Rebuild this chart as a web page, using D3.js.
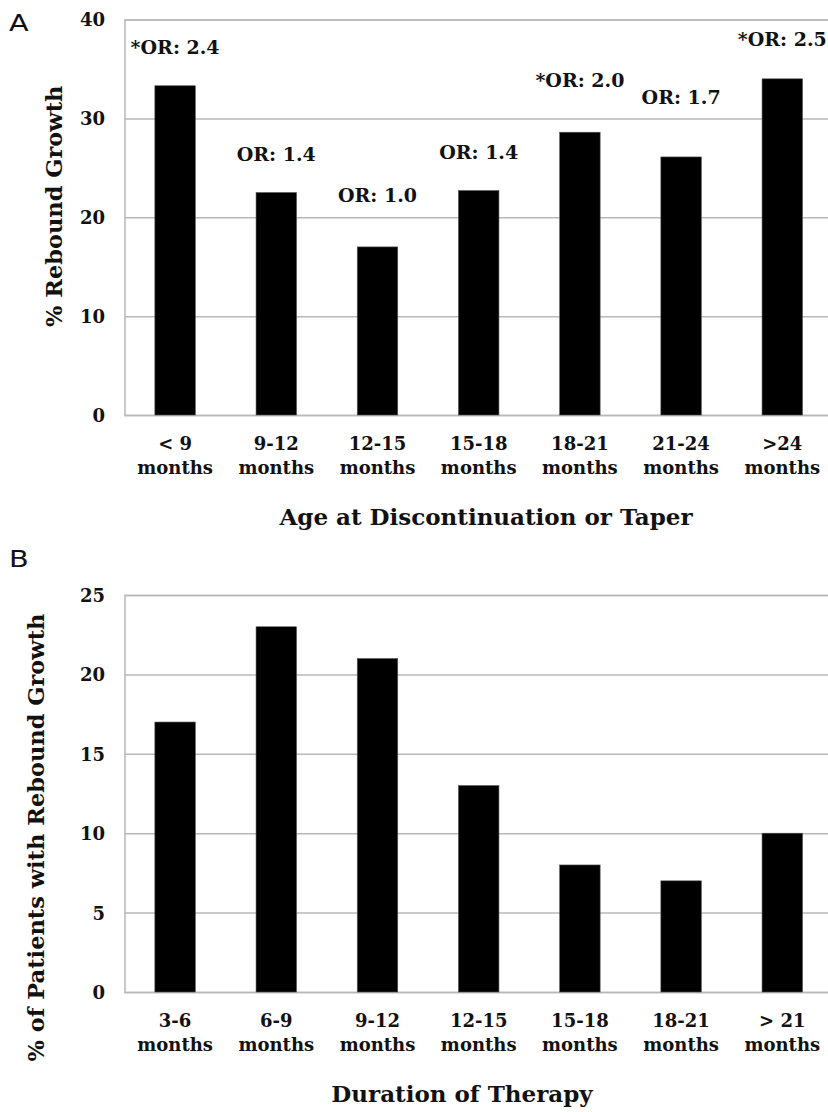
<!DOCTYPE html>
<html>
<head>
<meta charset="utf-8">
<script src="https://cdn.jsdelivr.net/npm/d3@7"></script>
<style>
  body { margin: 0; background: #fff; }
  svg text { font-family: "DejaVu Serif", serif; font-weight: bold; fill: #111; }
  .panel-letter { font-family: "DejaVu Sans", sans-serif !important; font-weight: normal !important; }
</style>
</head>
<body>
<script>
// panel A - age at discontinuation
var ageCats = ['< 9', '9-12', '12-15', '15-18', '18-21', '21-24', '>24'];
var ageRebound = [33.3, 22.5, 17.0, 22.7, 28.6, 26.1, 34.0];
var ageOR = ['*OR: 2.4', 'OR: 1.4', 'OR: 1.0', 'OR: 1.4', '*OR: 2.0', 'OR: 1.7', '*OR: 2.5'];
var ageORAt = [36.5, 25.7, 21.5, 25.9, 33.2, 31.5, 37.3]; // label baseline, in % units
var ageTicks = [0, 10, 20, 30, 40];

// panel B - duration of therapy
var durCats = ['3-6', '6-9', '9-12', '12-15', '15-18', '18-21', '> 21'];
var durRebound = [17, 23, 21, 13, 8, 7, 10];
var durTicks = [0, 5, 10, 15, 20, 25];

var width = 828;
var height = 1112;

var svg = d3.select('body').append('svg')
  .attr('width', width)
  .attr('height', height);

function drawPanel(opts) {
  var x = d3.scaleBand()
    .domain(opts.cats)
    .range([124.5, 832.9])
    .paddingInner(0.6)
    .paddingOuter(0.3);

  var y = d3.scaleLinear()
    .domain([0, d3.max(opts.ticks)])
    .range([opts.bottom, opts.top]);

  var g = svg.append('g');

  // gridlines + tick labels
  var yAxis = g.append('g')
    .attr('transform', 'translate(124.5,0)')
    .call(d3.axisLeft(y).tickValues(opts.ticks).tickSize(-(832.9 - 124.5)).tickPadding(19.5));

  yAxis.select('.domain').attr('stroke', '#b8b8b8').attr('stroke-width', 1.5);
  yAxis.selectAll('.tick line').attr('stroke', '#b8b8b8').attr('stroke-width', 1.5);
  yAxis.selectAll('.tick text')
    .attr('font-size', 18)
    .attr('font-family', null)
    .attr('dy', '0.36em');
  yAxis.attr('font-family', null);

  // bars
  g.selectAll('.bar')
    .data(opts.values)
    .enter()
    .append('rect')
    .attr('class', 'bar')
    .attr('x', function (d, i) { return x(opts.cats[i]); })
    .attr('width', x.bandwidth())
    .attr('y', function (d) { return y(d); })
    .attr('height', function (d) { return y(0) - y(d); })
    .attr('fill', '#000')
    .attr('stroke', '#555')
    .attr('stroke-width', 0.6);

  // category labels, two lines
  var xl = g.selectAll('.xlab')
    .data(opts.cats)
    .enter()
    .append('text')
    .attr('class', 'xlab')
    .attr('text-anchor', 'middle')
    .attr('font-size', 18);

  xl.append('tspan')
    .attr('x', function (d) { return x(d) + x.bandwidth() / 2; })
    .attr('y', y(0) + 35)
    .text(function (d) { return d; });

  xl.append('tspan')
    .attr('x', function (d) { return x(d) + x.bandwidth() / 2; })
    .attr('y', y(0) + 58.5)
    .text('months');

  // OR annotations
  if (opts.orText) {
    g.selectAll('.or')
      .data(opts.orText)
      .enter()
      .append('text')
      .attr('class', 'or')
      .attr('text-anchor', 'middle')
      .attr('font-size', 19)
      .attr('x', function (d, i) { return x(opts.cats[i]) + x.bandwidth() / 2; })
      .attr('y', function (d, i) { return y(opts.orAt[i]); })
      .text(function (d) { return d; });
  }

  // axis titles
  g.append('text')
    .attr('text-anchor', 'middle')
    .attr('font-size', 22.5)
    .attr('transform', 'translate(' + opts.yTitleX + ',' + ((opts.top + opts.bottom) / 2 + opts.yTitleShift) + ') rotate(-90)')
    .text(opts.yTitle);

  g.append('text')
    .attr('text-anchor', 'middle')
    .attr('font-size', 23)
    .attr('x', opts.xTitleX)
    .attr('y', y(0) + 110)
    .text(opts.xTitle);

  g.append('text')
    .attr('class', 'panel-letter')
    .attr('x', 9)
    .attr('y', opts.letterY)
    .attr('font-size', 23)
    .attr('transform', 'translate(9,' + opts.letterY + ') scale(1.25,1) translate(-9,' + (-opts.letterY) + ')')
    .text(opts.letter);
}

drawPanel({
  cats: ageCats,
  values: ageRebound,
  ticks: ageTicks,
  orText: ageOR,
  orAt: ageORAt,
  top: 19.5,
  bottom: 415,
  yTitle: '% Rebound Growth',
  yTitleX: 62,
  yTitleShift: -11,
  xTitle: 'Age at Discontinuation or Taper',
  xTitleX: 486,
  letter: 'A',
  letterY: 31
});

drawPanel({
  cats: durCats,
  values: durRebound,
  ticks: durTicks,
  top: 595,
  bottom: 992,
  yTitle: '% of Patients with Rebound Growth',
  yTitleX: 44,
  yTitleShift: 44,
  xTitle: 'Duration of Therapy',
  xTitleX: 462,
  letter: 'B',
  letterY: 567
});
</script>
</body>
</html>
